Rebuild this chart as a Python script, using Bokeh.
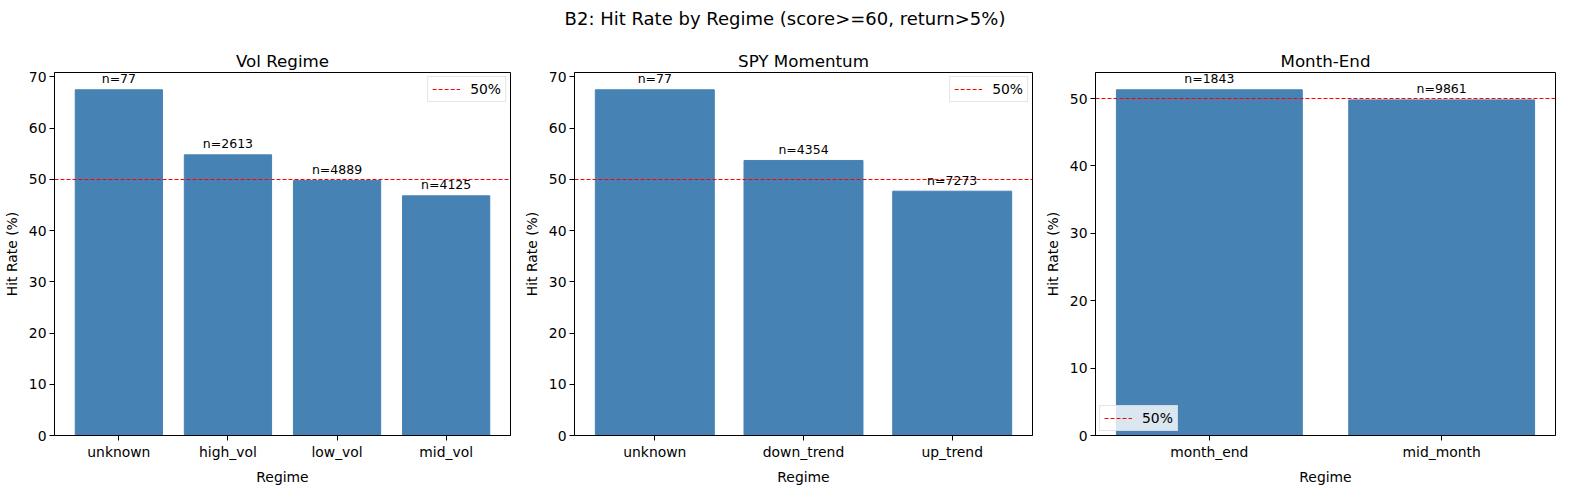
from bokeh.plotting import figure
from bokeh.models import FactorRange, Range1d, SingleIntervalTicker, ColumnDataSource, Div
from bokeh.layouts import column, row
from bokeh.core.properties import value
from bokeh.embed import file_html
from bokeh.resources import INLINE

FONT = "DejaVu Sans"
BAR_COLOR = "#4682B4"

vol_regimes = ["unknown", "high_vol", "low_vol", "mid_vol"]
vol_hit_rates = [67.5, 54.8, 49.8, 46.8]
vol_counts = [77, 2613, 4889, 4125]

spy_regimes = ["unknown", "down_trend", "up_trend"]
spy_hit_rates = [67.5, 53.7, 47.7]
spy_counts = [77, 4354, 7273]

month_regimes = ["month_end", "mid_month"]
month_hit_rates = [51.3, 49.8]
month_counts = [1843, 9861]

threshold = 50


def regime_panel(title, regimes, rates, counts, legend_loc, width, border_left, border_right):
    n = len(regimes)
    # matplotlib-like x limits: bars of width 0.8 plus 5% margin
    pad = (1.1 * (n - 0.2) - n) / n
    p = figure(
        x_range=FactorRange(factors=regimes, range_padding=pad),
        y_range=Range1d(0, max(rates) * 1.05),
        width=width, height=449,
        min_border_left=border_left, min_border_right=border_right,
        min_border_top=34, min_border_bottom=50,
        title=title, toolbar_location=None, output_backend="svg",
    )
    src = ColumnDataSource(dict(
        regime=regimes, rate=rates,
        label=[f"n={c}" for c in counts],
    ))
    p.vbar(x="regime", top="rate", width=0.8, source=src, color=BAR_COLOR)
    p.hspan(y=[threshold], line_color="red", line_dash="4 2", line_width=1, legend_label="50%")
    p.text(x="regime", y="rate", text="label", source=src, y_offset=-11,
           text_align="center", text_baseline="middle",
           text_font_size="12.5px", text_font=value(FONT), text_color="black")

    p.title.align = "center"
    p.title.text_font = FONT
    p.title.text_font_size = "16.7px"
    p.title.text_font_style = "normal"
    p.title.text_color = "black"
    p.title.standoff = 4

    p.xgrid.visible = False
    p.ygrid.visible = False
    p.outline_line_color = "black"
    p.outline_line_alpha = 1

    p.yaxis.ticker = SingleIntervalTicker(interval=10)
    p.xaxis.axis_label = "Regime"
    p.yaxis.axis_label = "Hit Rate (%)"
    for ax in (p.xaxis, p.yaxis):
        ax.axis_label_text_font = FONT
        ax.axis_label_text_font_size = "13.9px"
        ax.axis_label_text_font_style = "normal"
        ax.axis_label_text_color = "black"
        ax.major_label_text_font = FONT
        ax.major_label_text_font_size = "13.9px"
        ax.major_label_text_color = "black"
        ax.axis_line_color = "black"
        ax.major_tick_line_color = "black"
        ax.major_tick_out = 5
        ax.major_tick_in = 0
        ax.minor_tick_line_color = None
        ax.major_label_standoff = 3
        ax.axis_label_standoff = 6

    p.legend.location = legend_loc
    p.legend.label_text_font = FONT
    p.legend.label_text_font_size = "13.9px"
    p.legend.label_text_color = "black"
    p.legend.background_fill_alpha = 0.8
    p.legend.border_line_color = "#cccccc"
    p.legend.margin = 4
    p.legend.padding = 4
    p.legend.glyph_width = 28
    p.legend.glyph_height = 14
    p.legend.label_standoff = 10
    p.legend.label_height = 14
    return p


p1 = regime_panel("Vol Regime", vol_regimes, vol_hit_rates, vol_counts, "top_right", 520, 49, 10)
p2 = regime_panel("SPY Momentum", spy_regimes, spy_hit_rates, spy_counts, "top_right", 521, 52, 9)
p3 = regime_panel("Month-End", month_regimes, month_hit_rates, month_counts, "bottom_left", 530, 51, 16)

header = Div(
    text="B2: Hit Rate by Regime (score&gt;=60, return&gt;5%)",
    width=1560, height=28,
    styles={"text-align": "center", "font-family": FONT, "font-size": "18px",
            "color": "black", "width": "1560px", "padding-top": "1px"},
)

p = column(header, row(p1, p2, p3))

open("out.html", "w").write(file_html(p, INLINE))
